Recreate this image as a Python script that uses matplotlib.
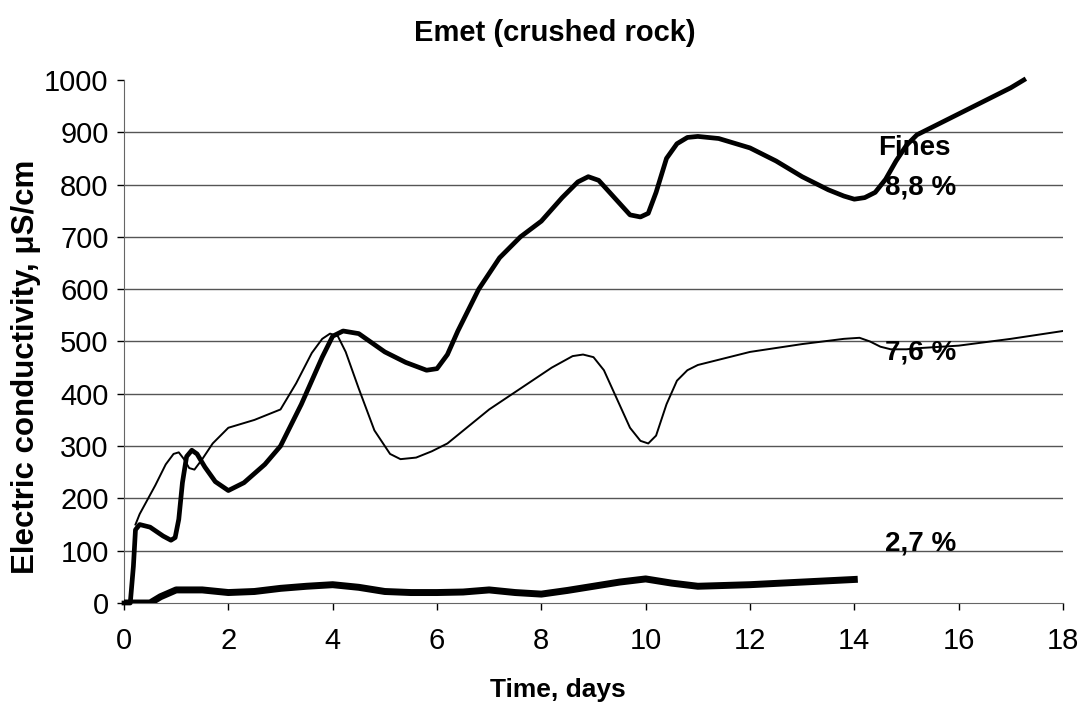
import matplotlib.pyplot as plt

plt.rcParams['font.family'] = ['Liberation Sans', 'DejaVu Sans']

# Fines 8,8 %
x_88 = [0, 0.12, 0.18, 0.22, 0.3, 0.5, 0.75, 0.9, 0.98, 1.05, 1.12, 1.2, 1.3, 1.4, 1.55, 1.75,
        2.0, 2.3, 2.7, 3.0, 3.4, 3.8, 4.0, 4.2, 4.5, 5.0, 5.4, 5.8, 6.0, 6.2, 6.4, 6.8, 7.2,
        7.6, 8.0, 8.4, 8.7, 8.9, 9.1, 9.4, 9.7, 9.9, 10.05, 10.2, 10.4, 10.6, 10.8, 11.0, 11.4,
        12.0, 12.5, 13.0, 13.5, 13.8, 14.0, 14.2, 14.4, 14.6, 14.8, 15.0, 15.2, 15.6, 16.0,
        16.5, 17.0, 17.25]
y_88 = [0, 0, 70, 140, 150, 145, 128, 120, 125, 160, 230, 280, 292, 285, 260, 232,
        215, 230, 265, 300, 380, 470, 510, 520, 515, 480, 460, 445, 448, 475, 520, 600, 660,
        700, 730, 775, 805, 815, 808, 775, 742, 738, 745, 785, 850, 878, 890, 892, 888,
        870, 845, 815, 790, 778, 772, 775, 785, 810, 845, 875, 895, 915, 935,
        960, 985, 1000]

# Fines 7,6 %
x_76 = [0.22, 0.3, 0.6, 0.8, 0.95, 1.05, 1.15, 1.25, 1.35, 1.5, 1.7, 2.0, 2.5, 3.0, 3.3,
        3.6, 3.8, 3.95, 4.1, 4.25, 4.5, 4.8, 5.1, 5.3, 5.6, 5.9, 6.2, 7.0, 7.6, 8.2, 8.6, 8.8,
        9.0, 9.2, 9.45, 9.7, 9.9, 10.05, 10.2, 10.4, 10.6, 10.8, 11.0, 12.0, 13.0, 13.8, 14.1,
        14.3, 14.5, 14.7, 15.0, 15.2, 16.0, 17.0, 18.0]
y_76 = [150, 170, 225, 265, 285, 288, 275, 258, 255, 275, 305, 335, 350, 370, 420,
        478, 505, 515, 510, 480, 410, 330, 285, 275, 278, 290, 305, 370, 410, 450, 472, 475,
        470, 445, 390, 335, 310, 305, 320, 380, 425, 445, 455, 480, 495, 505, 507,
        500, 490, 485, 485, 487, 492, 505, 520]

# Fines 2,7 %
x_27 = [0, 0.5, 0.7, 1.0, 1.5, 2.0, 2.5, 3.0, 3.5, 4.0, 4.5, 5.0, 5.5, 6.0, 6.5, 7.0, 7.5,
        8.0, 8.5, 9.0, 9.5, 10.0, 10.5, 11.0, 12.0, 13.0, 14.0]
y_27 = [0, 0, 12, 25, 25, 20, 22, 28, 32, 35, 30, 22, 20, 20, 21, 25, 20,
        17, 24, 32, 40, 46, 38, 32, 35, 40, 45]

yticks = list(range(0, 1001, 100))
xticks = list(range(0, 19, 2))

fig = plt.figure(figsize=(10.83, 7.2), dpi=100)
ax = fig.add_axes([0.1145, 0.1625, 0.867, 0.7265])

for yv in yticks[1:-1]:
    ax.axhline(yv, color='#555555', lw=1.0, zorder=1)

ax.plot(x_88, y_88, color='black', lw=3.4, solid_joinstyle='round', zorder=3, clip_on=False)
ax.plot(x_76, y_76, color='black', lw=1.4, solid_joinstyle='round', zorder=3)
ax.plot(x_27, y_27, color='black', lw=5.0, solid_joinstyle='round', zorder=3)

ax.set_xlim(0, 18)
ax.set_ylim(0, 1000)
ax.set_xticks(xticks)
ax.set_yticks(yticks)
ax.tick_params(labelsize=21, direction='out', length=5, width=1, colors='black')
ax.tick_params(axis='x', pad=12)
ax.tick_params(axis='y', pad=6)
for s in ['top', 'right']:
    ax.spines[s].set_visible(False)
ax.spines['left'].set_color('#666666')
ax.spines['bottom'].set_color('#666666')

ax.text(15.15, 870, 'Fines', fontsize=20, fontweight='bold', ha='center', va='center', zorder=4)
ax.text(15.27, 795, '8,8 %', fontsize=20, fontweight='bold', ha='center', va='center', zorder=4)
ax.text(15.27, 478, '7,6 %', fontsize=20, fontweight='bold', ha='center', va='center', zorder=4)
ax.text(15.27, 113, '2,7 %', fontsize=20, fontweight='bold', ha='center', va='center', zorder=4)

fig.text(0.512, 0.954, 'Emet (crushed rock)', fontsize=21, fontweight='bold', ha='center', va='center')
fig.text(0.515, 0.042, 'Time, days', fontsize=19, fontweight='bold', ha='center', va='center')
fig.text(0.024, 0.49, 'Electric conductivity, μS/cm', fontsize=22.5, fontweight='bold',
         ha='center', va='center', rotation=90)

fig.savefig('out.png', dpi=100)
